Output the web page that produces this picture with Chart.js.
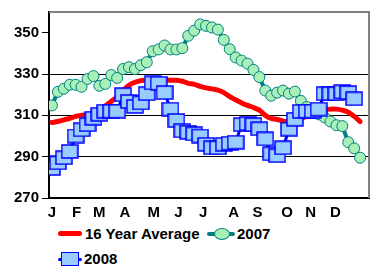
<!DOCTYPE html>
<html>
<head>
<meta charset="utf-8">
<script src="https://cdn.jsdelivr.net/npm/chart.js@4"></script>
<style>
  body { margin: 0; background: #fff; }
  #wrap { position: relative; width: 376px; height: 276px; }
  .lg { position: absolute; font: bold 15px "Liberation Sans", Arial, sans-serif; color: #000; line-height: 18px; white-space: nowrap; }
  .sw { position: absolute; }
</style>
</head>
<body>
<div id="wrap">
  <canvas id="chart" width="376" height="222"></canvas>
  <div class="sw" style="left:58px;top:231px;width:24px;height:5px;background:#ff0000;border-radius:3px"></div>
  <div class="lg" style="left:85px;top:225px">16 Year Average</div>
  <div class="sw" style="left:207px;top:232px;width:28px;height:4px;background:#008080;border-radius:2px"></div>
  <div class="sw" style="left:214px;top:228px;width:14px;height:10px;background:#a8f0b8;border:1px solid #008080;border-radius:50%"></div>
  <div class="lg" style="left:237px;top:225px">2007</div>
  <div class="sw" style="left:58px;top:258px;width:24px;height:3px;background:#0000ff;border-radius:2px"></div>
  <div class="sw" style="left:61px;top:252px;width:16px;height:12px;background:#99ccff;border:1.5px solid #0000ff"></div>
  <div class="lg" style="left:84px;top:250px">2008</div>
</div>
<script>
// weekly values, week 0 = start of January
const avg16 = [306.5, 307, 307.8, 308.5, 309.5, 310, 310.3, 311, 312, 314.5, 316.7, 319, 322, 324.5, 326, 326.8, 327, 327.3, 327, 327.2,
  327, 327, 326.5, 325.5, 325, 324, 323.3, 322.8, 322.2, 321, 319, 317.5, 316, 314.8, 313.8, 312.5, 310, 308.5, 308, 307.2,
  307, 307.5, 308.5, 309.5, 310.5, 311.5, 312.5, 313, 313, 312.5, 311.5, 309.5, 307];
const y2007 = [314.8, 321.4, 322.9, 324.8, 324.8, 323.8, 327.6, 329, 324.3, 325.2, 329.5, 328.1, 332.4, 333.3, 332.4, 334.3, 335.7, 341, 341.9, 343.8,
  341.9, 341.9, 342.5, 348.5, 351, 354, 353.3, 352.5, 351.5, 346.5, 342, 338, 336.5, 335, 332, 328.5, 322, 319.5, 321, 322,
  320.5, 321.5, 317, 314, 312.5, 310.5, 309, 307, 305.2, 304.8, 297, 294, 289.5];
const y2008 = [284.3, 287, 289.5, 292.5, 300, 303, 305.5, 308.6, 310.5, 312, 312, 312, 320, 316.7, 314.3, 316, 320.5, 325.7, 325.5, 321,
  313, 307.5, 302.5, 301.8, 301, 300, 296, 294.3, 294.3, 296, 296.5, 297, 305.5, 306, 305.5, 303.5, 298.6, 291.4, 290.5, 294.3,
  303.3, 308.1, 311.9, 312, 312, 313, 320.5, 320.5, 320.5, 321.4, 321, 318];

const monthLabels = ['J', 'F', 'M', 'A', 'M', 'J', 'J', 'A', 'S', 'O', 'N', 'D'];
const monthPos = [0, 4.17, 8, 12.33, 17.17, 21.33, 25.5, 30.67, 34.67, 39.67, 43.67, 47.83];
const yTicks = [270, 290, 310, 330, 350];
const gridAt = [290, 310, 330];

const toXY = arr => arr.map((v, i) => ({ x: i, y: v }));
const font = { family: '"Liberation Sans", Arial, sans-serif', size: 15, weight: 'bold' };

// wide square marker like the original
const sq = document.createElement('canvas');
sq.width = 18; sq.height = 15;
const sctx = sq.getContext('2d');
sctx.fillStyle = '#99ccff';
sctx.fillRect(1, 1, 16, 13);
sctx.strokeStyle = '#0000ff';
sctx.lineWidth = 1.5;
sctx.strokeRect(1, 1, 16, 13);

const frame = {
  id: 'frame',
  beforeDatasetsDraw(chart) {
    const { ctx, chartArea: a } = chart;
    ctx.save();
    ctx.strokeStyle = '#808080';
    ctx.lineWidth = 2;
    ctx.beginPath();
    ctx.moveTo(a.left, a.top);
    ctx.lineTo(a.right, a.top);
    ctx.lineTo(a.right, a.bottom);
    ctx.stroke();
    ctx.restore();
  }
};

new Chart(document.getElementById('chart'), {
  type: 'line',
  data: {
    datasets: [
      {
        label: '16 Year Average',
        data: toXY(avg16),
        borderColor: '#ff0000',
        borderWidth: 5,
        pointRadius: 0,
        tension: 0.3,
        borderCapStyle: 'round',
        order: 3
      },
      {
        label: '2007',
        data: toXY(y2007),
        borderColor: '#008080',
        borderWidth: 4,
        pointRadius: 5.5,
        pointBackgroundColor: '#a8f0b8',
        pointBorderColor: '#008080',
        pointBorderWidth: 1,
        order: 2
      },
      {
        label: '2008',
        data: toXY(y2008),
        borderColor: '#0000ff',
        borderWidth: 3,
        pointStyle: sq,
        order: 1
      }
    ]
  },
  options: {
    responsive: false,
    animation: false,
    layout: { padding: { top: 9, right: 3, left: 0, bottom: 0 } },
    plugins: { legend: { display: false }, tooltip: { enabled: false } },
    scales: {
      x: {
        type: 'linear',
        min: -0.5,
        max: 53.5,
        afterBuildTicks: s => { s.ticks = monthPos.map(v => ({ value: v })); },
        afterFit: s => { s.height = 24; },
        ticks: { autoSkip: false, maxRotation: 0, padding: 6, color: '#000', font, callback: (v, i) => monthLabels[i] },
        grid: { display: false, drawTicks: false },
        border: { color: '#000', width: 2 }
      },
      y: {
        min: 270,
        max: 360,
        afterBuildTicks: s => { s.ticks = yTicks.map(v => ({ value: v })); },
        afterFit: s => { s.width = 49; },
        ticks: { padding: 3, color: '#000', font },
        grid: {
          color: c => (c.tick && gridAt.includes(c.tick.value)) ? '#000' : 'rgba(0,0,0,0)',
          tickColor: '#000',
          tickLength: 7,
          lineWidth: 1
        },
        border: { color: '#000', width: 2 }
      }
    }
  },
  plugins: [frame]
});
</script>
</body>
</html>
